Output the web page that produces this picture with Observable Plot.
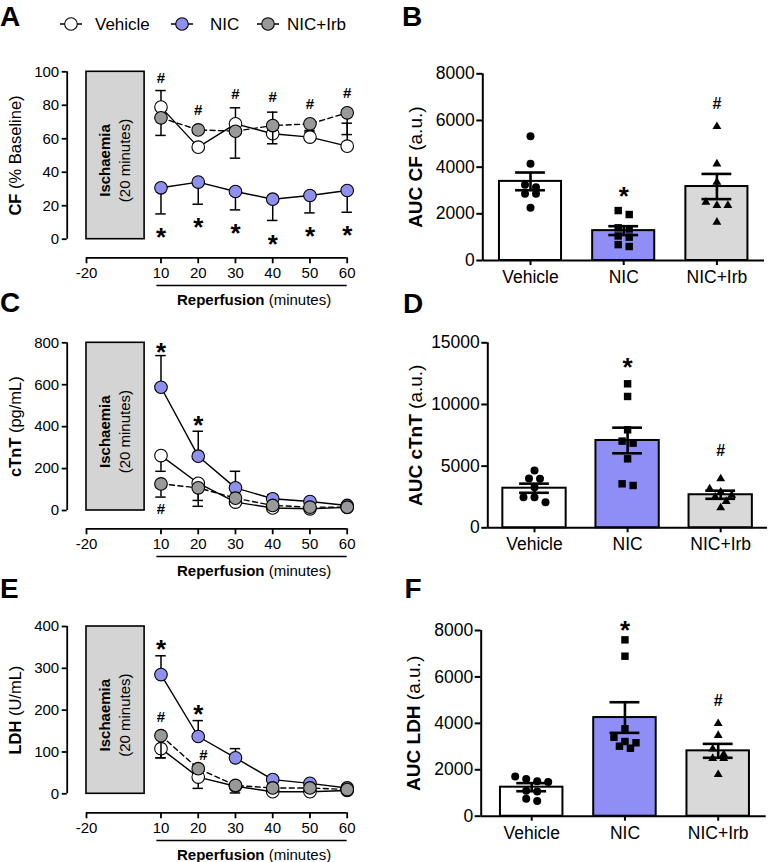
<!DOCTYPE html>
<html><head><meta charset="utf-8">
<script src="https://cdn.jsdelivr.net/npm/d3@7"></script>
<script src="https://cdn.jsdelivr.net/npm/@observablehq/plot@0.6"></script>
<style>
html,body{margin:0;padding:0;background:#fff;}
#root{position:relative;width:768px;height:862px;overflow:hidden;background:#fff;}
#root svg{position:absolute;}
</style></head><body><div id="root"></div>
<script>
const FONT = '"Liberation Sans", Arial, Helvetica, sans-serif';

// ---------- shared categories ----------
const times = [10, 20, 30, 40, 50, 60];
const timeTicks = [-20, 10, 20, 30, 40, 50, 60];
const groups = ["Vehicle", "NIC", "NIC+Irb"];
const ischaemia = {start: -20, end: 0, title: "Ischaemia", sub: "(20 minutes)"};

// ---------- Panel A: coronary flow (% baseline) ----------
const cfVehicle = [78.9, 55.0, 68.9, 63.0, 61.0, 55.6];
const cfVehicleSem = [9.9, 2.0, 9.6, 12.9, 3.0, 13.7];
const cfNic = [30.7, 34.1, 28.5, 23.9, 26.1, 29.1];
const cfNicSem = [15.6, 13.2, 11.0, 12.7, 10.4, 13.0];
const cfIrb = [72.5, 65.3, 64.5, 67.9, 68.9, 75.5];
const cfIrbSem = [10.5, 1.5, 16.1, 10.9, 4.0, 13.0];
const cfTicks = [0, 20, 40, 60, 80, 100];
const cfStarY = [5.1, 11.2, 7.2, 0.8, 5.6, 6.2];
const cfHashY = [96.4, 76.9, 86.9, 84.8, 80.9, 87.2];

// ---------- Panel B: AUC CF ----------
const aucCfMean = [3390, 1280, 3170];
const aucCfSem = [380, 190, 540];
const aucCfVehicle = [5326, 4143, 3243, 3141, 2857, 2857, 2258];
const aucCfNic = [2140, 1970, 1400, 1350, 1050, 1000, 680, 600];
const aucCfIrb = [5741, 4143, 3357, 2500, 2357, 2357, 1643];
const aucCfTicks = [0, 2000, 4000, 6000, 8000];
const aucCfStarY = 3029, aucCfHashY = 6714;

// ---------- Panel C: cTnT ----------
const tntVehicle = [262, 130, 40, 12, 8, 15];
const tntVehicleSem = [75, 110, 10, 5, 3, 3];
const tntNic = [588, 259, 108, 56, 43, 24];
const tntNicSem = [151, 119, 79, 20, 5, 5];
const tntIrb = [127, 108, 59, 24, 16, 16];
const tntIrbSem = [63, 60, 15, 8, 4, 4];
const tntTicks = [0, 200, 400, 600, 800];
const tntStars = [{t: 10, y: 787}, {t: 20, y: 437}];
const tntHashes = [{t: 10, y: 8}];

// ---------- Panel D: AUC cTnT ----------
const aucTntMean = [3210, 7080, 2680];
const aucTntSem = [370, 1040, 330];
const aucTntVehicle = [4645, 4000, 3970, 3293, 2483, 2483, 2078];
const aucTntNic = [11676, 10649, 7946, 7027, 6865, 5594, 3567, 3430];
const aucTntIrb = [3973, 3162, 2886, 2650, 2500, 2135, 1622];
const aucTntTicks = [0, 5000, 10000, 15000];
const aucTntStarY = 13565, aucTntHashY = 6268;

// ---------- Panel E: LDH ----------
const ldhVehicle = [108, 40, 18, 5, 5, 8];
const ldhVehicleSem = [22, 27, 16, 3, 2, 2];
const ldhNic = [285, 137, 86, 34, 25, 14];
const ldhNicSem = [45, 38, 22, 5, 4, 3];
const ldhIrb = [139, 60, 20, 14, 14, 10];
const ldhIrbSem = [53, 10, 5, 4, 3, 3];
const ldhTicks = [0, 100, 200, 300, 400];
const ldhStars = [{t: 10, y: 362}, {t: 20, y: 207}];
const ldhHashes = [{t: 10, y: 183}, {t: 21.4, y: 92}];

// ---------- Panel F: AUC LDH ----------
const aucLdhMean = [1250, 4250, 2816];
const aucLdhSem = [175, 660, 300];
const aucLdhVehicle = [1710, 1600, 1510, 1470, 1100, 1060, 750, 650];
const aucLdhNic = [7598, 6893, 3765, 3403, 3217, 3162, 3016, 2929];
const aucLdhIrb = [3993, 3477, 2903, 2658, 2486, 2486, 1796];
const aucLdhTicks = [0, 2000, 4000, 6000, 8000];
const aucLdhStarY = 8288, aucLdhHashY = 4984;

// ---------- styles ----------
const dotFill = {"Vehicle": "#ffffff", "NIC": "#8f8fee", "NIC+Irb": "#999999"};
const barFill = ["#ffffff", "#8e8ef6", "#d9d9d9"];

const root = document.getElementById("root");

// broken time axis: the ischaemic period is drawn compressed before reperfusion
function xpos(t) {
  if (t >= 10) return t;
  if (t <= 0) return -10 + (t + 20) * 0.78;
  return 5.6 + t * 0.44;
}

function boldify(svg, full, bold) {
  svg.querySelectorAll("text").forEach(t => {
    if (t.textContent === full && t.children.length === 0) {
      t.textContent = "";
      t.setAttribute("style", "white-space:pre");
      const a = document.createElementNS("http://www.w3.org/2000/svg", "tspan");
      a.setAttribute("font-weight", "bold"); a.textContent = bold;
      const b = document.createElementNS("http://www.w3.org/2000/svg", "tspan");
      b.textContent = full.slice(bold.length);
      t.append(a, b);
    }
  });
}

function place(svg, left, top) {
  svg.style.left = left + "px";
  svg.style.top = top + "px";
  root.appendChild(svg);
}

function linePanel(c) {
  const ppx = (346.7 - 86) / (60 - xpos(-20));
  const xmin = xpos(-20) - (86 - 66.7) / ppx;
  const xmax = 60 + (352 - 346.7) / ppx;
  const k = (c.y0 - c.yTop) / c.ymax;
  const ymin = -(c.axisY - c.y0) / k;
  const tickPos = timeTicks.map(xpos);
  const marks = [
    Plot.rect([ischaemia], {x1: d => xpos(d.start), x2: d => xpos(d.end), y1: 0, y2: c.ymax, fill: "#d4d4d4", stroke: "black", strokeWidth: 1.6}),
    Plot.text([ischaemia], {x: d => (xpos(d.start) + xpos(d.end)) / 2, y: c.ymax / 2, text: d => d.title, rotate: -90, dx: -10, dy: 5, fontWeight: "bold", fontSize: 15}),
    Plot.text([ischaemia], {x: d => (xpos(d.start) + xpos(d.end)) / 2, y: c.ymax / 2, text: d => d.sub, rotate: -90, dx: 10, dy: 5, fontSize: 15}),
    Plot.ruleX([xmin], {y1: 0, y2: c.ymax, strokeWidth: 1.8}),
    Plot.axisY({ticks: c.yticks, tickSize: 5, tickPadding: 3, fontSize: 15, strokeWidth: 1.8, label: null, tickFormat: d => String(d)}),
    Plot.ruleY([ymin], {x1: xpos(-20), x2: 60, strokeWidth: 1.8}),
    Plot.axisX({ticks: tickPos, tickFormat: d => String(timeTicks[tickPos.indexOf(d)]), tickSize: 6, tickPadding: 4, fontSize: 15, strokeWidth: 1.8, label: null}),
    Plot.ruleY([ymin], {x1: times[0] - 1.1, x2: times[times.length - 1], dy: 27.7, strokeWidth: 1.5}),
    Plot.text(["Reperfusion (minutes)"], {x: (times[0] + times[times.length - 1]) / 2, y: ymin, dy: 42.5, text: d => d, fontSize: 15}),
    Plot.text([c.label], {x: xmin, y: c.ymax / 2, text: d => d, rotate: -90, dx: -51.7, fontSize: 16.5})
  ];
  c.series.forEach(s => {
    const r = times.map((t, i) => ({t, v: s.values[i], e: s.sem[i] * s.dir}));
    marks.push(
      Plot.ruleX(r, {x: d => xpos(d.t), y1: d => d.v, y2: d => d.v + d.e, strokeWidth: 1.5}),
      Plot.ruleY(r, {y: d => d.v + d.e, x1: d => xpos(d.t) - 1.4, x2: d => xpos(d.t) + 1.4, strokeWidth: 1.5}),
      Plot.line(r, {x: d => xpos(d.t), y: "v", strokeWidth: 1.4, strokeDasharray: s.dash}),
      Plot.dot(r, {x: d => xpos(d.t), y: "v", r: 6.3, fill: dotFill[s.name], stroke: "black", strokeWidth: 1.1})
    );
  });
  marks.push(
    Plot.text(c.stars, {x: d => xpos(d.t), y: "y", text: () => "*", fontSize: 26, fontWeight: "bold", dy: 7}),
    Plot.text(c.hashes, {x: d => xpos(d.t), y: "y", text: () => "#", fontSize: 15, fontWeight: "bold"})
  );
  const svg = Plot.plot({
    width: 384, height: c.bottom - c.top,
    marginLeft: 66.7, marginRight: 32, marginTop: c.yTop - c.top, marginBottom: c.bottom - c.axisY,
    x: {domain: [xmin, xmax], axis: null},
    y: {domain: [ymin, c.ymax], axis: null},
    style: {fontFamily: FONT, fontSize: "15px", background: "transparent", color: "black", overflow: "visible"},
    marks
  });
  boldify(svg, "Reperfusion (minutes)", "Reperfusion");
  boldify(svg, c.label, c.bold);
  place(svg, 0, c.top);
}

function swarm(values, k, step) {
  const sorted = values.map((v, j) => ({v, j})).sort((a, b) => b.v - a.v);
  const off = new Array(values.length).fill(0);
  const rows = [];
  let row = [];
  for (const p of sorted) {
    if (row.length && (row[0].v - p.v) * k > 6.5) { rows.push(row); row = []; }
    row.push(p);
  }
  if (row.length) rows.push(row);
  for (const r of rows) r.forEach((p, q) => off[p.j] = (q - (r.length - 1) / 2) * 11 / step);
  return off;
}

function barPanel(c) {
  const xmin = (c.frameL - c.c0) / c.step, xmax = (c.frameR - c.c0) / c.step;
  const k = (c.y0 - c.yTop) / c.ymax;
  const bars = groups.map((g, i) => ({i, g, m: c.means[i], e: c.sems[i]}));
  const caps = bars.flatMap(d => [{i: d.i, y: d.m - d.e}, {i: d.i, y: d.m + d.e}]);
  const symbols = [["circle", 4], ["square", 4.2], ["triangle", 3.3]];
  const marks = [
    Plot.rect(bars, {x1: d => d.i - c.hw, x2: d => d.i + c.hw, y1: 0, y2: "m", fill: "g", stroke: "black", strokeWidth: 2})
  ];
  c.points.forEach((vals, i) => {
    const off = swarm(vals, k, c.step);
    const pts = vals.map((v, j) => ({i, v, o: off[j]}));
    marks.push(Plot.dot(pts, {x: d => d.i + d.o, y: "v", symbol: symbols[i][0], r: symbols[i][1], fill: "black", stroke: "none"}));
  });
  marks.push(
    Plot.ruleX(bars, {x: "i", y1: d => d.m - d.e, y2: d => d.m + d.e, strokeWidth: 2.6}),
    Plot.ruleY(caps, {y: "y", x1: d => d.i - c.cap, x2: d => d.i + c.cap, strokeWidth: 2.6}),
    Plot.ruleX([xmin], {y1: 0, y2: c.ymax, strokeWidth: 2}),
    Plot.ruleY([0], {x1: xmin, x2: xmax, strokeWidth: 2}),
    Plot.axisY({ticks: c.yticks, tickSize: 6, tickPadding: 2, fontSize: 17.5, strokeWidth: 2, label: null, tickFormat: d => String(d)}),
    Plot.axisX({ticks: [0, 1, 2], tickFormat: i => groups[i], tickSize: 5, tickPadding: 5, fontSize: 17.5, strokeWidth: 2, label: null}),
    Plot.text([c.label], {x: xmin, y: c.ymax / 2, text: d => d, rotate: -90, dx: c.labelDx, fontSize: 19}),
    Plot.text([{i: 1, y: c.starY}], {x: "i", y: "y", text: () => "*", fontSize: 26, fontWeight: "bold", dy: 7}),
    Plot.text([{i: 2, y: c.hashY}], {x: "i", y: "y", text: () => "#", fontSize: 16, fontWeight: "bold"})
  );
  const svg = Plot.plot({
    width: 384, height: c.bottom - c.top,
    marginLeft: c.frameL - 384, marginRight: 768 - c.frameR, marginTop: c.yTop - c.top, marginBottom: c.bottom - c.y0,
    x: {domain: [xmin, xmax], axis: null},
    y: {domain: [0, c.ymax], axis: null},
    color: {domain: groups, range: barFill},
    style: {fontFamily: FONT, fontSize: "17px", background: "transparent", color: "black", overflow: "visible"},
    marks
  });
  boldify(svg, c.label, c.bold);
  place(svg, 384, c.top);
}

const mkSeries = (v, vs, n, ns, ir, irs, dirs) => [
  {name: "Vehicle", values: v, sem: vs, dir: dirs[0], dash: null},
  {name: "NIC", values: n, sem: ns, dir: dirs[1], dash: null},
  {name: "NIC+Irb", values: ir, sem: irs, dir: dirs[2], dash: "5,3.5"}
];

linePanel({top: 40, y0: 238.7, yTop: 71.3, axisY: 257.3, ymax: 100, bottom: 312, yticks: cfTicks,
  label: "CF (% Baseline)", bold: "CF",
  series: mkSeries(cfVehicle, cfVehicleSem, cfNic, cfNicSem, cfIrb, cfIrbSem, [1, -1, -1]),
  stars: times.map((t, i) => ({t, y: cfStarY[i]})), hashes: times.map((t, i) => ({t, y: cfHashY[i]}))});

linePanel({top: 315, y0: 510, yTop: 342.3, axisY: 528.3, ymax: 800, bottom: 582, yticks: tntTicks,
  label: "cTnT (pg/mL)", bold: "cTnT",
  series: mkSeries(tntVehicle, tntVehicleSem, tntNic, tntNicSem, tntIrb, tntIrbSem, [-1, 1, -1]),
  stars: tntStars, hashes: tntHashes});

linePanel({top: 600, y0: 793.3, yTop: 626, axisY: 812.3, ymax: 400, bottom: 862, yticks: ldhTicks,
  label: "LDH (U/mL)", bold: "LDH",
  series: mkSeries(ldhVehicle, ldhVehicleSem, ldhNic, ldhNicSem, ldhIrb, ldhIrbSem, [-1, 1, -1]),
  stars: ldhStars, hashes: ldhHashes});

barPanel({top: 40, bottom: 297, frameL: 482.3, frameR: 764, c0: 530, step: 93.2, y0: 260, yTop: 73.3, ymax: 8000,
  yticks: aucCfTicks, hw: 0.333, cap: 0.16, label: "AUC CF (a.u.)", bold: "AUC CF", labelDx: -66.6,
  means: aucCfMean, sems: aucCfSem, points: [aucCfVehicle, aucCfNic, aucCfIrb], starY: aucCfStarY, hashY: aucCfHashY});

barPanel({top: 315, bottom: 565, frameL: 487.3, frameR: 767, c0: 534, step: 93.1, y0: 527.3, yTop: 342.3, ymax: 15000,
  yticks: aucTntTicks, hw: 0.34, cap: 0.16, label: "AUC cTnT (a.u.)", bold: "AUC cTnT", labelDx: -71.6,
  means: aucTntMean, sems: aucTntSem, points: [aucTntVehicle, aucTntNic, aucTntIrb], starY: aucTntStarY, hashY: aucTntHashY});

barPanel({top: 600, bottom: 858, frameL: 480.7, frameR: 765.7, c0: 531.2, step: 93.25, y0: 815.7, yTop: 630, ymax: 8000,
  yticks: aucLdhTicks, hw: 0.335, cap: 0.16, label: "AUC LDH (a.u.)", bold: "AUC LDH", labelDx: -67.4,
  means: aucLdhMean, sems: aucLdhSem, points: [aucLdhVehicle, aucLdhNic, aucLdhIrb], starY: aucLdhStarY, hashY: aucLdhHashY});

// ---------- overlay: panel letters and legend ----------
const ov = d3.create("svg").attr("width", 768).attr("height", 862)
  .style("left", "0px").style("top", "0px").style("pointer-events", "none")
  .attr("font-family", FONT);
const letters = [["A", 0, 25.5], ["B", 402, 25.5], ["C", 0, 312], ["D", 403, 313], ["E", 0, 598], ["F", 404.5, 598]];
ov.selectAll("text.letter").data(letters).join("text").attr("class", "letter")
  .attr("x", d => d[1]).attr("y", d => d[2]).attr("font-size", 28).attr("font-weight", "bold").text(d => d[0]);
const legendItems = [{g: "Vehicle", cx: 71, tx: 95}, {g: "NIC", cx: 182, tx: 210}, {g: "NIC+Irb", cx: 268, tx: 287}];
const lg = ov.selectAll("g.leg").data(legendItems).join("g").attr("class", "leg");
lg.append("line").attr("x1", d => d.cx - 11).attr("x2", d => d.cx + 11).attr("y1", 24).attr("y2", 24).attr("stroke", "black").attr("stroke-width", 1.5);
lg.append("circle").attr("cx", d => d.cx).attr("cy", 24).attr("r", 6.3).attr("fill", d => dotFill[d.g]).attr("stroke", "black").attr("stroke-width", 1.1);
lg.append("text").attr("x", d => d.tx).attr("y", 24).attr("dy", "0.35em").attr("font-size", 17).text(d => d.g);
root.appendChild(ov.node());
</script></body></html>
